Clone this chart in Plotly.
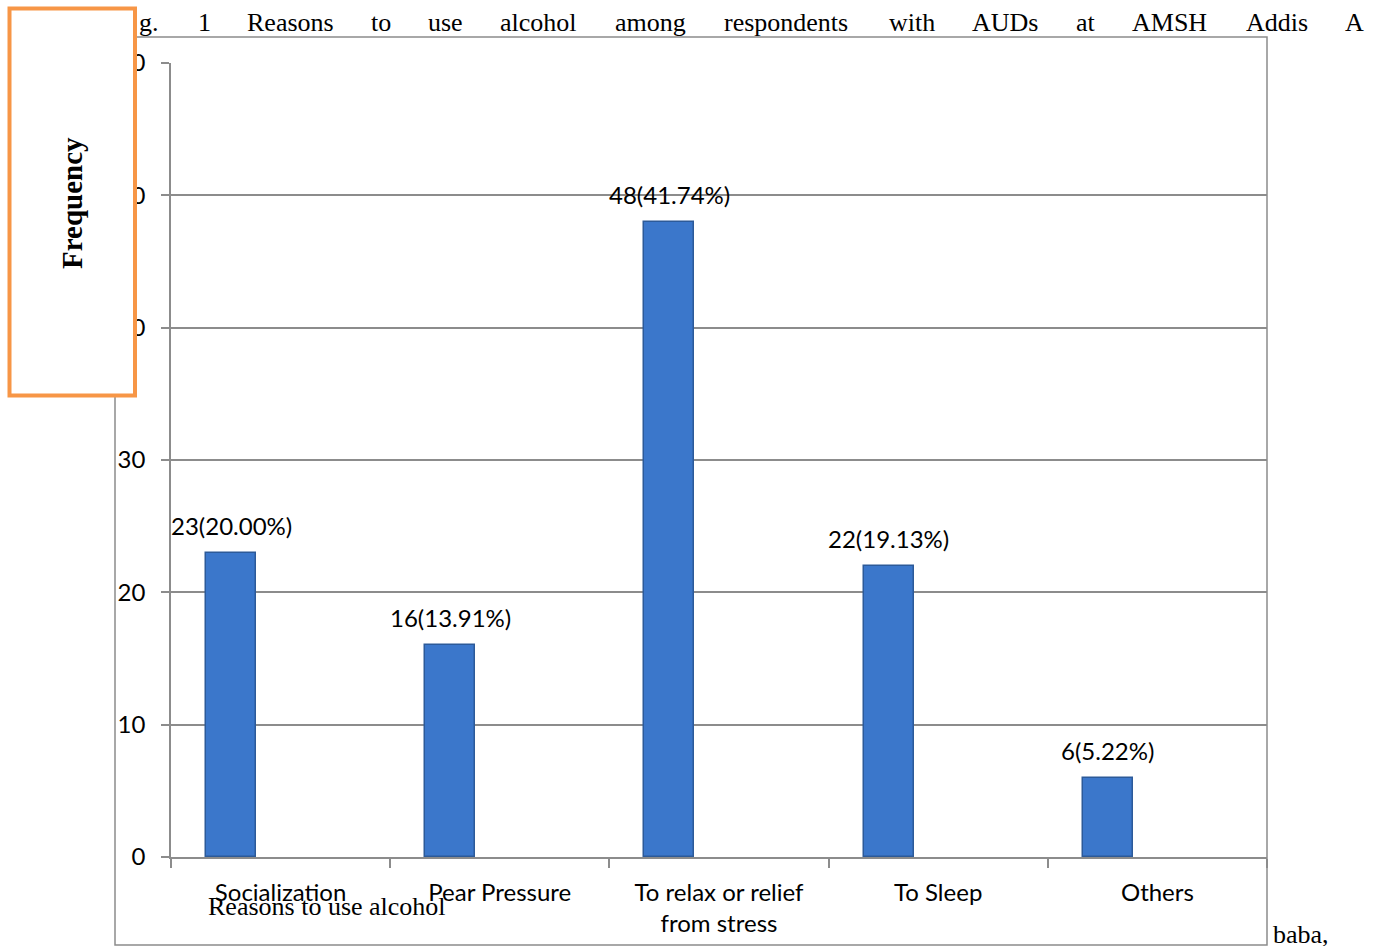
import plotly.graph_objects as go

categories = ["Socialization", "Pear Pressure", "To relax or relief<br>from stress", "To Sleep", "Others"]
frequency = [23, 16, 48, 22, 6]
percent = [20.00, 13.91, 41.74, 19.13, 5.22]
y_ticks = [0, 10, 20, 30, 40, 50, 60]
title_words = ["g.", "1", "Reasons", "to", "use", "alcohol", "among", "respondents",
               "with", "AUDs", "at", "AMSH", "Addis", "A"]
title_word_left_px = [137, 196, 245, 369, 426, 498, 613, 722, 887, 970, 1074, 1130, 1244, 1343]

W, H = 1376, 946
L, R, T, B = 171, 1267, 63, 857
PW, PH = R - L, B - T
BAR_OFFSET, BAR_WIDTH = -0.34, 0.228


def px(x):
    return (x - L) / PW


def py(y):
    return (B - y) / PH


GRAY = "#8c8c8c"
SERIF = "Liberation Serif, Times New Roman, serif"
labels = [f"{f}({p:.2f}%)" for f, p in zip(frequency, percent)]

fig = go.Figure()
fig.add_trace(go.Bar(
    x=categories, y=frequency,
    offset=BAR_OFFSET, width=BAR_WIDTH,
    marker=dict(color="#3b77cb", line=dict(color="#2c5a99", width=1.5)),
    showlegend=False, hoverinfo="x+y",
))

# data labels centred over the (offset) bars
for i, (lab, f) in enumerate(zip(labels, frequency)):
    fig.add_annotation(text=lab, x=i + BAR_OFFSET + BAR_WIDTH / 2, y=f,
                       xref="x", yref="y", xanchor="center", yanchor="bottom",
                       yshift=11, showarrow=False,
                       font=dict(family="Lato", size=24, color="#000000"))

fig.update_layout(
    width=W, height=H,
    margin=dict(l=L, r=W - R, t=T, b=H - B, autoexpand=False),
    paper_bgcolor="white", plot_bgcolor="white",
    font=dict(family="Lato", size=24, color="#000000"),
    bargap=0,
)
fig.update_xaxes(
    type="category", range=[-0.5, 4.5],
    tickson="boundaries", ticks="outside", ticklen=9, tickcolor=GRAY, tickwidth=1.5,
    showline=True, linecolor=GRAY, linewidth=1.5,
    showgrid=False, tickfont=dict(family="Lato", size=24, color="#000000"),
    ticklabelstandoff=13,
)
fig.update_yaxes(
    range=[0, 60], tickvals=y_ticks,
    ticks="outside", ticklen=8, tickcolor=GRAY, tickwidth=1.5,
    showline=True, linecolor=GRAY, linewidth=1.5,
    showgrid=True, gridcolor=GRAY, gridwidth=1.5, zeroline=False,
    tickfont=dict(family="Lato", size=24, color="#000000"),
    ticklabelstandoff=11,
)

# outer frame
fig.add_shape(type="rect", xref="paper", yref="paper",
              x0=px(115), x1=px(1267), y0=py(945), y1=py(37),
              line=dict(color=GRAY, width=1.5), layer="above")
# orange box
fig.add_shape(type="rect", xref="paper", yref="paper",
              x0=px(9.5), x1=px(135), y0=py(395.5), y1=py(8.5),
              line=dict(color="#f79646", width=4), fillcolor="white", layer="above")

fig.add_annotation(text="<b>Frequency</b>", xref="paper", yref="paper",
                   x=px(72), y=py(203), xanchor="center", yanchor="middle",
                   textangle=-90, showarrow=False,
                   font=dict(family=SERIF, size=29, color="#000000"))

for w, xl in zip(title_words, title_word_left_px):
    fig.add_annotation(text=w, xref="paper", yref="paper", x=px(xl), y=py(23),
                       xanchor="left", yanchor="middle", showarrow=False,
                       font=dict(family=SERIF, size=26, color="#000000"))

fig.add_annotation(text="Reasons to use alcohol", xref="paper", yref="paper",
                   x=px(206), y=py(906), xanchor="left", yanchor="middle", showarrow=False,
                   font=dict(family=SERIF, size=26, color="#000000"))
fig.add_annotation(text="baba,", xref="paper", yref="paper",
                   x=px(1271), y=py(934), xanchor="left", yanchor="middle", showarrow=False,
                   font=dict(family=SERIF, size=26, color="#000000"))

fig.write_html("out.html")
